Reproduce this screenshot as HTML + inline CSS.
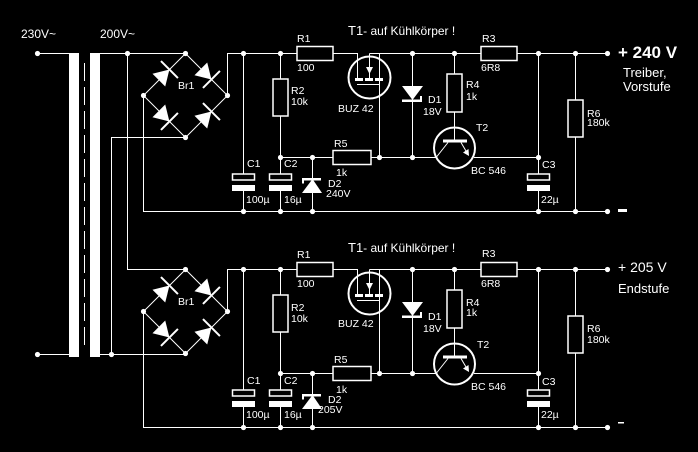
<!DOCTYPE html>
<html><head><meta charset="utf-8"><style>
html,body{margin:0;padding:0;background:#000}
svg{display:block}
.w{stroke:#fff;fill:none;stroke-width:1}
.r{stroke:#fff;fill:none;stroke-width:1.5}
.c{stroke:#fff;fill:none;stroke-width:2}
.f{fill:#fff;stroke:none}
text{fill:#fff;font-family:"Liberation Sans",Arial,sans-serif;font-size:10.5px}
</style></head><body>
<svg width="698" height="452" viewBox="0 0 698 452" xmlns="http://www.w3.org/2000/svg">
<rect width="698" height="452" fill="#000"/>

<!-- transformer & input -->
<text x="21" y="38" style="font-size:12px">230V~</text>
<text x="100" y="38" style="font-size:12px">200V~</text>
<rect class="f" x="69" y="53" width="10" height="304"/>
<rect class="f" x="90" y="53" width="10" height="304"/>
<line x1="84.5" y1="63" x2="84.5" y2="350" stroke="#fff" stroke-width="1" stroke-dasharray="18 6"/>
<path class="w" d="M37.5,53.5 H69 M100,53.5 H185.5 M127.5,53.5 V269.5 H185.5 M37.5,354.5 H69 M100,354.5 H185.5 M111.5,354.5 V137.5 H185.5"/>
<g class="f">
<circle cx="37.5" cy="53.5" r="2.6"/><circle cx="127.5" cy="53.5" r="2.6"/>
<circle cx="37.5" cy="354.5" r="2.6"/><circle cx="111.5" cy="354.5" r="2.6"/>
</g>

<!-- ================= UPPER ================= -->
<g>
<path class="w" d="M185.5,53.5 L143.5,95.5 L185.5,137.5 L227.5,95.5 Z"/>
<g class="f">
 <g transform="translate(164.5,74.5) rotate(-45)"><polygon points="-8,-9 -8,9 7,0"/><rect x="6" y="-12" width="2" height="24"/></g>
 <g transform="translate(206.5,74.5) rotate(45)"><polygon points="-8,-9 -8,9 7,0"/><rect x="6" y="-12" width="2" height="24"/></g>
 <g transform="translate(164.5,116.5) rotate(45)"><polygon points="-8,-9 -8,9 7,0"/><rect x="6" y="-12" width="2" height="24"/></g>
 <g transform="translate(206.5,116.5) rotate(-45)"><polygon points="-8,-9 -8,9 7,0"/><rect x="6" y="-12" width="2" height="24"/></g>
</g>
<text x="178" y="89">Br1</text>

<path class="w" d="M227.5,95.5 V53.5 H297 M333,53.5 H357.5 V79 M369.5,53.5 V78 M369.5,53.5 H481 M517,53.5 H607.5 M379.5,53.5 V157.5 M143.5,95.5 V211.5 H607.5 M243.5,53.5 V174 M243.5,191 V211.5 M280.5,53.5 V79 M280.5,116 V174 M280.5,191 V211.5 M280.5,157.5 H333 M371,157.5 H436 M474,157.5 H538.5 M312.5,157.5 V211.5 M412.5,53.5 V157.5 M454.5,53.5 V74 M454.5,112 V140 M538.5,53.5 V174 M538.5,191 V211.5 M575.5,53.5 V100 M575.5,137 V211.5 M357,84.5 H379.5"/>

<rect class="r" x="297" y="46.5" width="36" height="14"/>
<rect class="r" x="481" y="46.5" width="36" height="14"/>
<rect class="r" x="273" y="79" width="15" height="37"/>
<rect class="r" x="447" y="74" width="15" height="38"/>
<rect class="r" x="568" y="100" width="15" height="37"/>
<rect class="r" x="333" y="150.5" width="38" height="14"/>

<rect class="r" x="232.5" y="174" width="22" height="6"/><rect class="f" x="232" y="185" width="23" height="6"/>
<rect class="r" x="269.5" y="174" width="22" height="6"/><rect class="f" x="269" y="185" width="23" height="6"/>
<rect class="r" x="527.5" y="174" width="22" height="6"/><rect class="f" x="527" y="185" width="23" height="6"/>

<polygon class="f" points="302,193 322,193 312.5,179"/>
<rect class="f" x="302" y="178" width="19" height="2.5"/><rect class="f" x="302" y="178" width="2" height="5.5"/>
<polygon class="f" points="402,86 423,86 412.5,100"/>
<rect class="f" x="402" y="99.5" width="20" height="2.5"/><rect class="f" x="420" y="96" width="2" height="6"/>

<circle class="c" cx="369.5" cy="77.5" r="21"/>
<rect class="f" x="355" y="78" width="8" height="3"/><rect class="f" x="365" y="78" width="8" height="3"/><rect class="f" x="375" y="78" width="8" height="3"/>
<polygon class="f" points="366,67 373,67 369.5,74"/>

<circle class="c" cx="454.5" cy="148" r="20.5"/>
<rect class="f" x="443" y="139.5" width="24" height="3"/>
<path class="w" d="M448,142.5 L436.5,157 M461,142.5 L466,151"/>
<polygon class="f" points="469,156 468.5,149 463,152.5"/>

<g class="f">
<circle cx="185.5" cy="53.5" r="2.6"/><circle cx="143.5" cy="95.5" r="2.6"/><circle cx="227.5" cy="95.5" r="2.6"/><circle cx="185.5" cy="137.5" r="2.6"/>
<circle cx="243.5" cy="53.5" r="2.6"/><circle cx="280.5" cy="53.5" r="2.6"/><circle cx="412.5" cy="53.5" r="2.6"/><circle cx="454.5" cy="53.5" r="2.6"/><circle cx="538.5" cy="53.5" r="2.6"/><circle cx="575.5" cy="53.5" r="2.6"/><circle cx="607.5" cy="53.5" r="2.6"/>
<circle cx="280.5" cy="157.5" r="2.6"/><circle cx="312.5" cy="157.5" r="2.6"/><circle cx="379.5" cy="157.5" r="2.6"/><circle cx="412.5" cy="157.5" r="2.6"/><circle cx="538.5" cy="157.5" r="2.6"/>
<circle cx="243.5" cy="211.5" r="2.6"/><circle cx="280.5" cy="211.5" r="2.6"/><circle cx="312.5" cy="211.5" r="2.6"/><circle cx="538.5" cy="211.5" r="2.6"/><circle cx="575.5" cy="211.5" r="2.6"/><circle cx="607.5" cy="211.5" r="2.6"/>
</g>

<text x="348" y="35" style="font-size:12px"><tspan style="font-size:13px">T1</tspan>- auf Kühlkörper !</text>
<text x="297" y="42">R1</text><text x="297" y="71">100</text>
<text x="291" y="94">R2</text><text x="291" y="105">10k</text>
<text x="338" y="112">BUZ 42</text>
<text x="247" y="167">C1</text><text x="284" y="167">C2</text>
<text x="246" y="203">100µ</text><text x="284" y="203">16µ</text>
<text x="328" y="187">D2</text>
<text x="334" y="147">R5</text><text x="336" y="176">1k</text>
<text x="428" y="103">D1</text><text x="423" y="115">18V</text>
<text x="482" y="42">R3</text><text x="481" y="71">6R8</text>
<text x="466" y="88">R4</text><text x="466" y="100">1k</text>
<text x="476" y="131">T2</text><text x="471" y="174">BC 546</text>
<text x="542" y="168">C3</text><text x="541" y="203">22µ</text>
<text x="587" y="117">R6</text><text x="587" y="126">180k</text>
</g>
<text x="326" y="197">240V</text>
<text x="618" y="58" style="font-size:17px;font-weight:bold">+ 240 V</text>
<text x="623" y="77" style="font-size:13px">Treiber,</text>
<text x="623" y="91" style="font-size:13px">Vorstufe</text>
<rect class="f" x="618" y="209" width="9" height="3"/>

<!-- ================= LOWER ================= -->
<g transform="translate(0,216)">
<path class="w" d="M185.5,53.5 L143.5,95.5 L185.5,137.5 L227.5,95.5 Z"/>
<g class="f">
 <g transform="translate(164.5,74.5) rotate(-45)"><polygon points="-8,-9 -8,9 7,0"/><rect x="6" y="-12" width="2" height="24"/></g>
 <g transform="translate(206.5,74.5) rotate(45)"><polygon points="-8,-9 -8,9 7,0"/><rect x="6" y="-12" width="2" height="24"/></g>
 <g transform="translate(164.5,116.5) rotate(45)"><polygon points="-8,-9 -8,9 7,0"/><rect x="6" y="-12" width="2" height="24"/></g>
 <g transform="translate(206.5,116.5) rotate(-45)"><polygon points="-8,-9 -8,9 7,0"/><rect x="6" y="-12" width="2" height="24"/></g>
</g>
<text x="178" y="89">Br1</text>

<path class="w" d="M227.5,95.5 V53.5 H297 M333,53.5 H357.5 V79 M369.5,53.5 V78 M369.5,53.5 H481 M517,53.5 H607.5 M379.5,53.5 V157.5 M143.5,95.5 V211.5 H607.5 M243.5,53.5 V174 M243.5,191 V211.5 M280.5,53.5 V79 M280.5,116 V174 M280.5,191 V211.5 M280.5,157.5 H333 M371,157.5 H436 M474,157.5 H538.5 M312.5,157.5 V211.5 M412.5,53.5 V157.5 M454.5,53.5 V74 M454.5,112 V140 M538.5,53.5 V174 M538.5,191 V211.5 M575.5,53.5 V100 M575.5,137 V211.5 M357,84.5 H379.5"/>

<rect class="r" x="297" y="46.5" width="36" height="14"/>
<rect class="r" x="481" y="46.5" width="36" height="14"/>
<rect class="r" x="273" y="79" width="15" height="37"/>
<rect class="r" x="447" y="74" width="15" height="38"/>
<rect class="r" x="568" y="100" width="15" height="37"/>
<rect class="r" x="333" y="150.5" width="38" height="14"/>

<rect class="r" x="232.5" y="174" width="22" height="6"/><rect class="f" x="232" y="185" width="23" height="6"/>
<rect class="r" x="269.5" y="174" width="22" height="6"/><rect class="f" x="269" y="185" width="23" height="6"/>
<rect class="r" x="527.5" y="174" width="22" height="6"/><rect class="f" x="527" y="185" width="23" height="6"/>

<polygon class="f" points="302,193 322,193 312.5,179"/>
<rect class="f" x="302" y="178" width="19" height="2.5"/><rect class="f" x="302" y="178" width="2" height="5.5"/>
<polygon class="f" points="402,86 423,86 412.5,100"/>
<rect class="f" x="402" y="99.5" width="20" height="2.5"/><rect class="f" x="420" y="96" width="2" height="6"/>

<circle class="c" cx="369.5" cy="77.5" r="21"/>
<rect class="f" x="355" y="78" width="8" height="3"/><rect class="f" x="365" y="78" width="8" height="3"/><rect class="f" x="375" y="78" width="8" height="3"/>
<polygon class="f" points="366,67 373,67 369.5,74"/>

<circle class="c" cx="454.5" cy="148" r="20.5"/>
<rect class="f" x="443" y="139.5" width="24" height="3"/>
<path class="w" d="M448,142.5 L436.5,157 M461,142.5 L466,151"/>
<polygon class="f" points="469,156 468.5,149 463,152.5"/>

<g class="f">
<circle cx="185.5" cy="53.5" r="2.6"/><circle cx="143.5" cy="95.5" r="2.6"/><circle cx="227.5" cy="95.5" r="2.6"/><circle cx="185.5" cy="137.5" r="2.6"/>
<circle cx="243.5" cy="53.5" r="2.6"/><circle cx="280.5" cy="53.5" r="2.6"/><circle cx="412.5" cy="53.5" r="2.6"/><circle cx="454.5" cy="53.5" r="2.6"/><circle cx="538.5" cy="53.5" r="2.6"/><circle cx="575.5" cy="53.5" r="2.6"/><circle cx="607.5" cy="53.5" r="2.6"/>
<circle cx="280.5" cy="157.5" r="2.6"/><circle cx="312.5" cy="157.5" r="2.6"/><circle cx="379.5" cy="157.5" r="2.6"/><circle cx="412.5" cy="157.5" r="2.6"/><circle cx="538.5" cy="157.5" r="2.6"/>
<circle cx="243.5" cy="211.5" r="2.6"/><circle cx="280.5" cy="211.5" r="2.6"/><circle cx="312.5" cy="211.5" r="2.6"/><circle cx="538.5" cy="211.5" r="2.6"/><circle cx="575.5" cy="211.5" r="2.6"/><circle cx="607.5" cy="211.5" r="2.6"/>
</g>

<text x="348" y="36" style="font-size:12px"><tspan style="font-size:13px">T1</tspan>- auf Kühlkörper !</text>
<text x="297" y="42">R1</text><text x="297" y="71">100</text>
<text x="291" y="95">R2</text><text x="291" y="106">10k</text>
<text x="338" y="111">BUZ 42</text>
<text x="247" y="168">C1</text><text x="284" y="168">C2</text>
<text x="246" y="202">100µ</text><text x="284" y="202">16µ</text>
<text x="328" y="187">D2</text><text x="318" y="197">205V</text>
<text x="334" y="147">R5</text><text x="336" y="177">1k</text>
<text x="428" y="104">D1</text><text x="423" y="116">18V</text>
<text x="482" y="41">R3</text><text x="481" y="71">6R8</text>
<text x="466" y="90">R4</text><text x="466" y="100">1k</text>
<text x="477" y="132">T2</text><text x="471" y="174">BC 546</text>
<text x="542" y="169">C3</text><text x="541" y="202">22µ</text>
<text x="587" y="116">R6</text><text x="587" y="127">180k</text>
</g>
<text x="618" y="272" style="font-size:14px">+ 205 V</text>
<text x="618" y="293" style="font-size:13px">Endstufe</text>
<rect class="f" x="618" y="422" width="6" height="1.5"/>
</svg>
</body></html>
